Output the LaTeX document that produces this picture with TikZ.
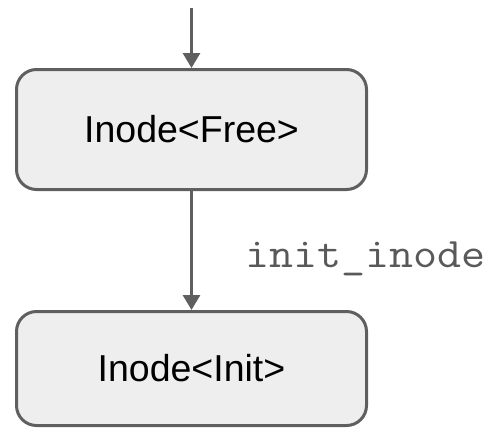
\documentclass[tikz,border=0pt]{standalone}
\usepackage{fontspec}
\setmainfont{Liberation Sans}
\newfontfamily\codefont[FakeStretch=1.11]{Latin Modern Mono}
\usetikzlibrary{arrows.meta}
\definecolor{edgegray}{HTML}{5F5F5F}
\definecolor{boxfill}{HTML}{EEEEEE}
\definecolor{codegray}{HTML}{595959}
\tikzset{
  statebox/.style={draw=edgegray, fill=boxfill, line width=3pt, rounded corners=20pt,
    minimum width=350pt, inner sep=0pt, font=\fontsize{37.5}{40}\selectfont, text=black},
  flow/.style={draw=edgegray, line width=3pt,
    -{Triangle[width=17pt,length=15pt]}},
  codelabel/.style={font=\codefont\fontsize{42}{45}\selectfont, text=codegray, inner sep=0pt}
}
\begin{document}
\begin{tikzpicture}[x=1pt,y=-1pt]
  \useasboundingbox (0,0) rectangle (489,429);
  \coordinate (entry) at (191.5,8);
  \node[statebox, minimum height=120pt] (free) at (191.5,129.5) {Inode<Free>};
  \node[statebox, minimum height=114pt] (init) at (191.5,368.5) {Inode<Init>};
  \draw[flow] (entry) -- (free.north);
  \draw[flow] (free.south) -- (init.north);
  \node[codelabel, anchor=base west] (lbl) at (245,267) {init\_inode};
\end{tikzpicture}
\end{document}
